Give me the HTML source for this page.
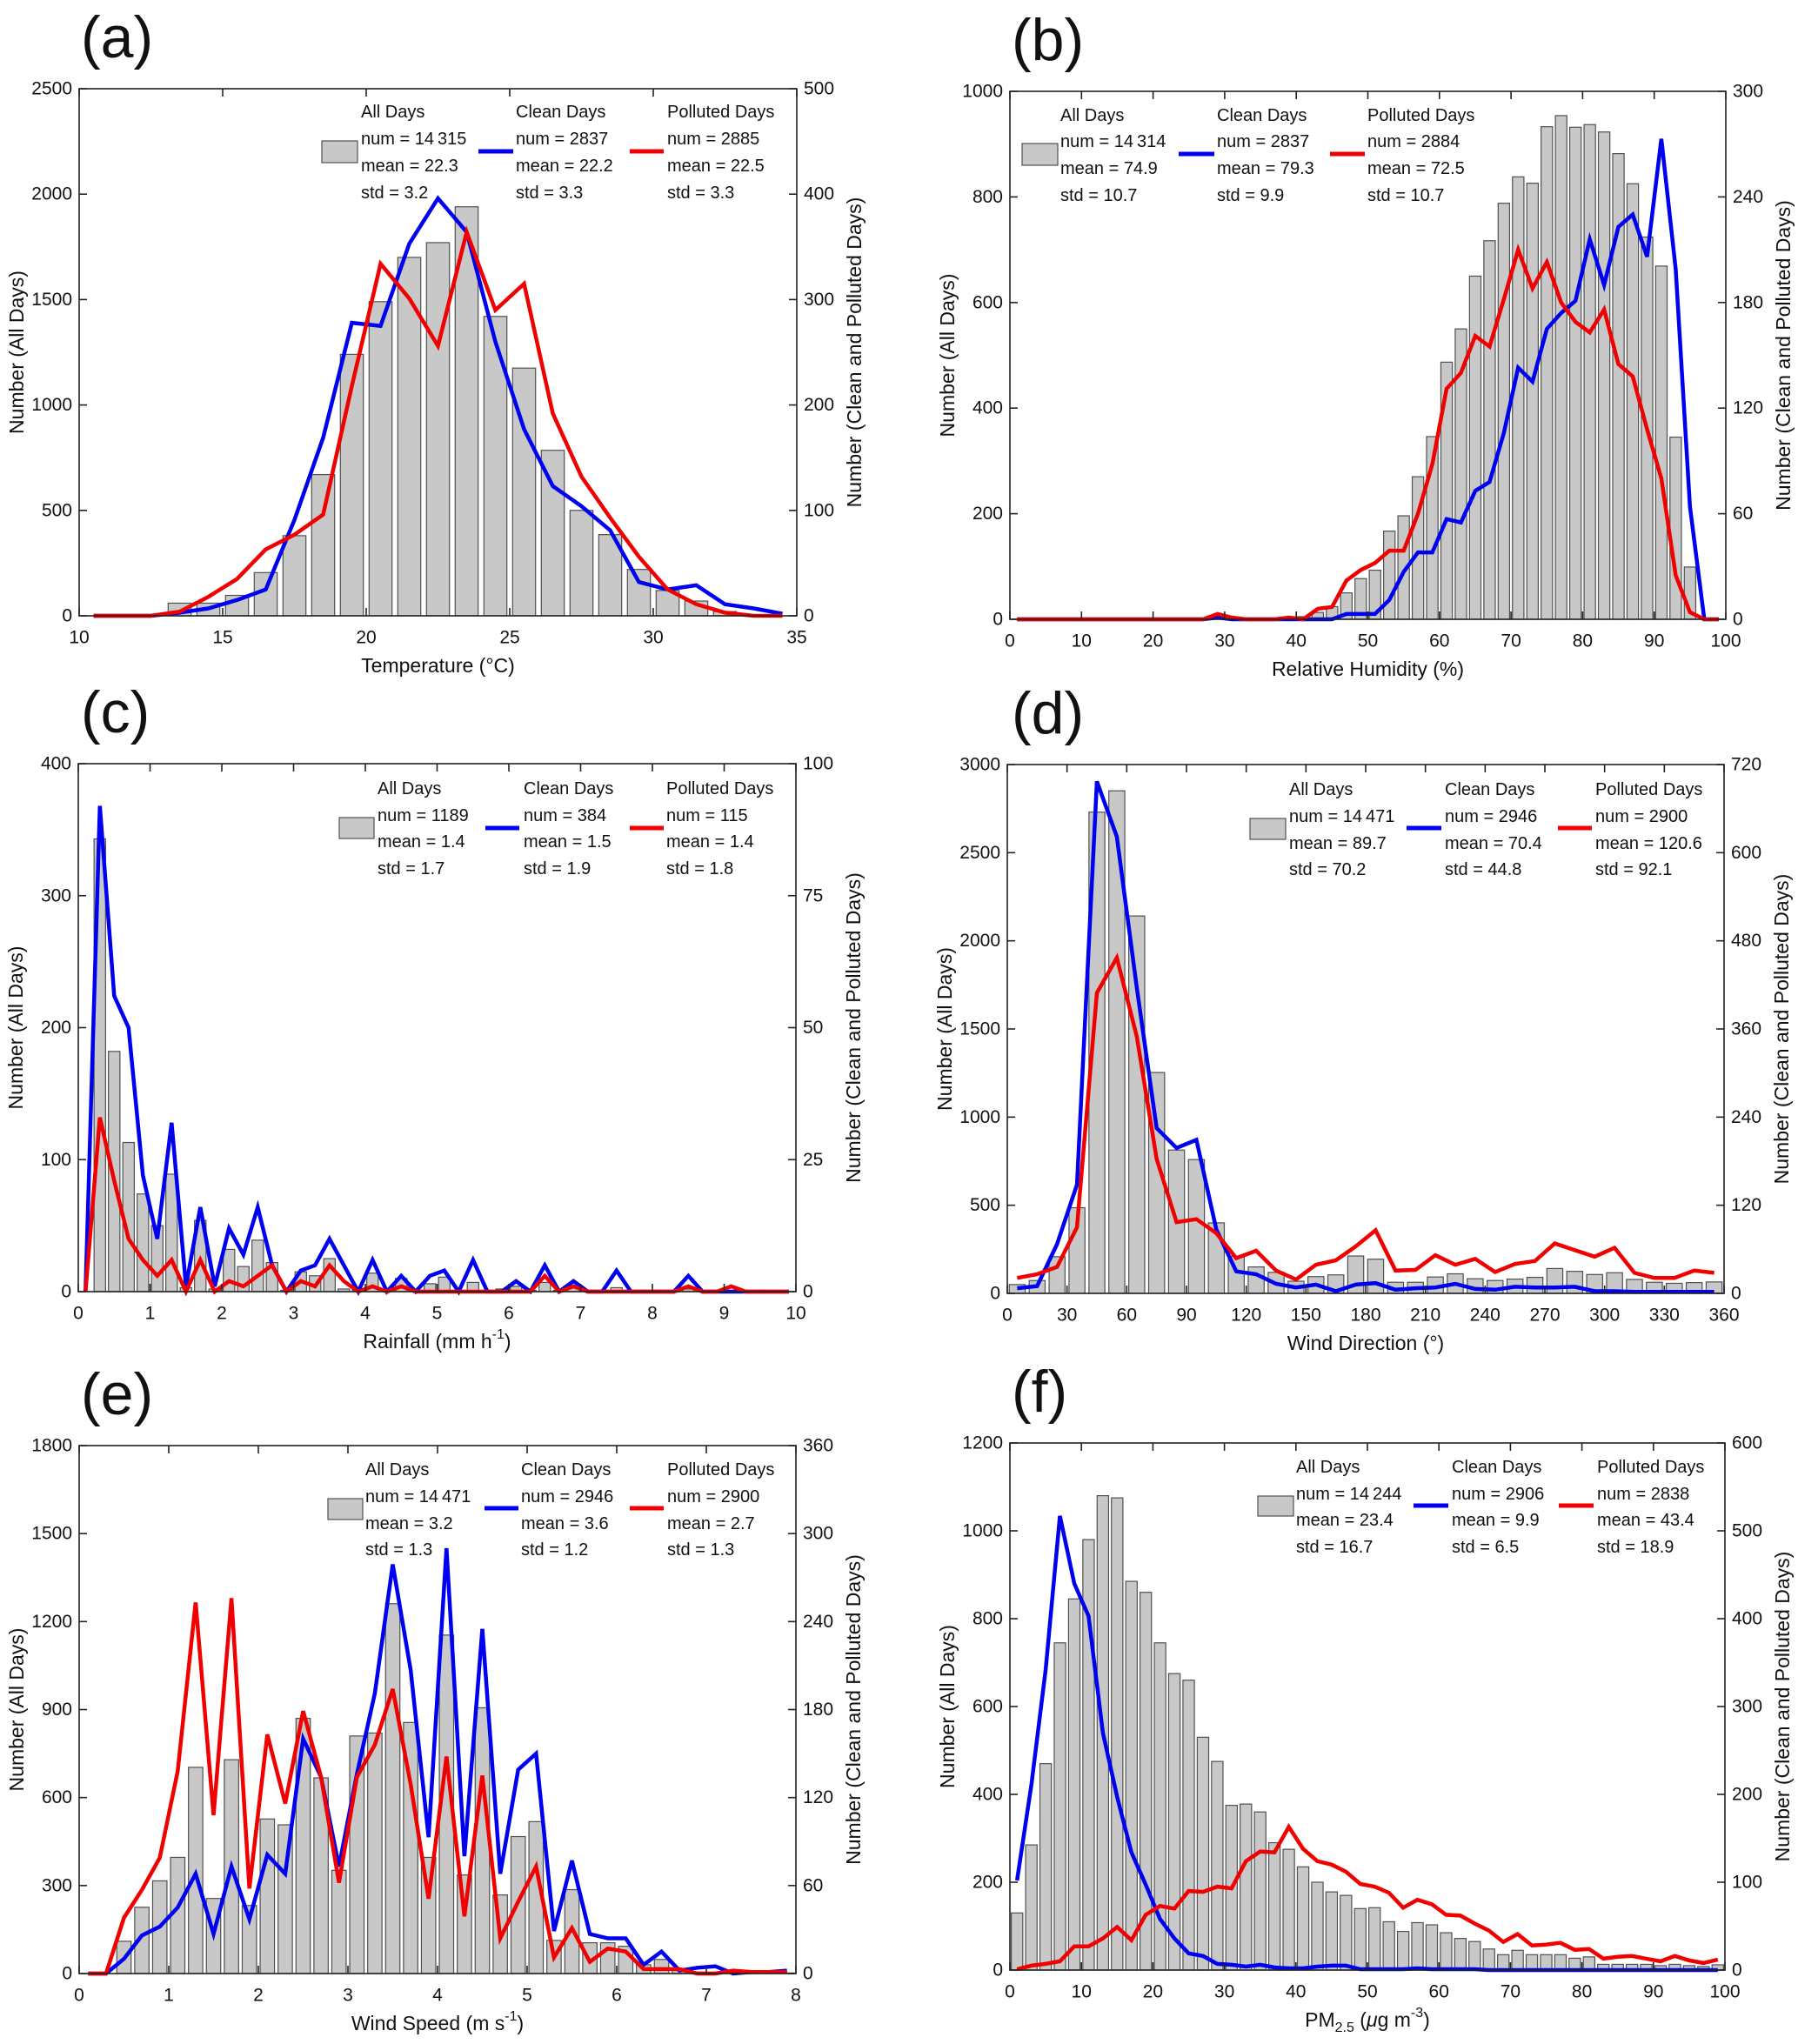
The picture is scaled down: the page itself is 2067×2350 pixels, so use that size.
<!DOCTYPE html>
<html><head><meta charset="utf-8"><title>Histograms of meteorological variables</title>
<style>
html,body{margin:0;padding:0;background:#fff;}
svg{display:block;font-family:"Liberation Sans",sans-serif;}
text{fill:#111;}
</style></head>
<body>
<svg id="fig" xmlns="http://www.w3.org/2000/svg" width="2067" height="2350" viewBox="0 0 2067 2350"></svg>
<script>
// ---------- DATA ----------
// (a) Temperature
const aCats=[10.5,11.5,12.5,13.5,14.5,15.5,16.5,17.5,18.5,19.5,20.5,21.5,22.5,23.5,24.5,25.5,26.5,27.5,28.5,29.5,30.5,31.5,32.5,33.5,34.5];
const aAll=[0,0,0,60,60,97,205,380,670,1240,1490,1700,1770,1940,1420,1175,785,500,385,220,120,70,20,5,0];
const aClean=[0,0,0,3,7,15,25,91,169,278,275,353,396,364,260,177,123,104,81,32,25,29,11,7,2];
const aPolluted=[0,0,0,4,18,35,63,77,96,218,334,301,256,364,290,315,192,132,93,56,25,11,3,0,0];
const aXTicks=[10,15,20,25,30,35];
const aLeftTicks=[0,500,1000,1500,2000,2500];
const aRightTicks=[0,100,200,300,400,500];

// (b) Relative humidity
const bCats=[1,3,5,7,9,11,13,15,17,19,21,23,25,27,29,31,33,35,37,39,41,43,45,47,49,51,53,55,57,59,61,63,65,67,69,71,73,75,77,79,81,83,85,87,89,91,93,95,97,99];
const bAll=[0,0,0,0,0,0,0,0,0,0,0,0,0,0,0,0,0,0,0,3,5,13,24,50,77,93,167,196,270,346,487,550,650,717,788,838,826,933,954,932,937,923,882,825,724,669,345,99,0,0];
const bClean=[0,0,0,0,0,0,0,0,0,0,0,0,0,0,1,0,0,0,0,0,0,0,0,3,3,3,11,27,38,38,57,55,73,78,106,143,135,165,174,181,216,190,223,230,206,273,199,64,0,0];
const bPolluted=[0,0,0,0,0,0,0,0,0,0,0,0,0,0,3,1,0,0,0,1,0,6,7,22,28,32,39,39,60,88,131,140,161,155,182,210,188,203,180,169,163,176,145,138,108,80,25,4,0,0];
const bXTicks=[0,10,20,30,40,50,60,70,80,90,100];
const bLeftTicks=[0,200,400,600,800,1000];
const bRightTicks=[0,60,120,180,240,300];

// (c) Rainfall
const cCats=[0.1,0.3,0.5,0.7,0.9,1.1,1.3,1.5,1.7,1.9,2.1,2.3,2.5,2.7,2.9,3.1,3.3,3.5,3.7,3.9,4.1,4.3,4.5,4.7,4.9,5.1,5.3,5.5,5.7,5.9,6.1,6.3,6.5,6.7,6.9,7.1,7.3,7.5,7.7,7.9,8.1,8.3,8.5,8.7,8.9,9.1,9.3,9.5,9.7,9.9];
const cAll=[0,343,182,113,74,50,89,3,54,2,32,19,39,22,1,15,12,25,2,1,14,1,10,1,6,11,1,7,1,2,4,1,7,1,3,1,1,3,1,1,1,1,2,1,1,1,1,1,0,0];
const cClean=[0,92,56,50,22,10,32,1,16,1,12,7,16,5,0,4,5,10,5,0,6,0,3,0,3,4,0,6,0,0,2,0,5,0,2,0,0,4,0,0,0,0,3,0,0,0,0,0,0,0];
const cPolluted=[0,33,21,10,6,3,6,0,6,0,2,1,3,5,0,2,1,5,2,0,1,0,1,0,0,0,0,0,0,0,0,0,3,0,1,0,0,0,0,0,0,0,1,0,0,1,0,0,0,0];
const cXTicks=[0,1,2,3,4,5,6,7,8,9,10];
const cLeftTicks=[0,100,200,300,400];
const cRightTicks=[0,25,50,75,100];

// (d) Wind direction
const dCats=[5,15,25,35,45,55,65,75,85,95,105,115,125,135,145,155,165,175,185,195,205,215,225,235,245,255,265,275,285,295,305,315,325,335,345,355];
const dAll=[50,73,208,486,2730,2851,2141,1253,813,759,400,210,150,119,69,95,105,212,194,63,63,93,111,83,73,81,91,141,125,107,117,79,63,57,61,65];
const dClean=[7,10,67,148,697,622,417,225,198,209,87,30,26,13,8,12,3,12,14,5,7,8,13,6,5,9,8,8,9,3,3,2,2,2,2,2];
const dPolluted=[21,26,36,90,409,457,350,183,97,101,82,48,58,31,19,39,45,64,86,31,32,52,39,47,29,40,44,68,59,50,62,28,21,21,31,28];
const dXTicks=[0,30,60,90,120,150,180,210,240,270,300,330,360];
const dLeftTicks=[0,500,1000,1500,2000,2500,3000];
const dRightTicks=[0,120,240,360,480,600,720];

// (e) Wind speed
const eCats=[0.1,0.3,0.5,0.7,0.9,1.1,1.3,1.5,1.7,1.9,2.1,2.3,2.5,2.7,2.9,3.1,3.3,3.5,3.7,3.9,4.1,4.3,4.5,4.7,4.9,5.1,5.3,5.5,5.7,5.9,6.1,6.3,6.5,6.7,6.9,7.1,7.3,7.5,7.7,7.9];
const eAll=[0,0,110,226,316,396,703,256,729,232,527,507,870,667,352,810,820,1261,856,396,1154,336,906,268,467,518,113,286,105,105,93,30,48,12,5,3,3,2,2,2];
const eClean=[0,0,10,26,32,45,68,27,73,37,81,68,160,134,73,136,191,279,207,93,290,80,235,68,139,150,29,77,27,24,24,6,15,2,4,5,0,1,1,2];
const ePolluted=[0,0,38,57,79,138,253,108,256,58,163,116,179,134,62,134,156,194,129,51,148,39,135,24,49,73,11,31,8,17,15,3,3,3,0,0,2,1,1,1];
const eXTicks=[0,1,2,3,4,5,6,7,8];
const eLeftTicks=[0,300,600,900,1200,1500,1800];
const eRightTicks=[0,60,120,180,240,300,360];

// (f) PM2.5
const fCats=[1,3,5,7,9,11,13,15,17,19,21,23,25,27,29,31,33,35,37,39,41,43,45,47,49,51,53,55,57,59,61,63,65,67,69,71,73,75,77,79,81,83,85,87,89,91,93,95,97,99];
const fAll=[130,285,470,745,845,980,1080,1075,885,860,745,675,660,530,475,375,378,360,290,275,235,200,178,170,140,142,110,88,108,103,85,72,65,48,35,45,35,35,35,27,30,13,13,13,13,10,13,10,8,12];
const fClean=[102,211,342,517,440,403,270,197,134,97,58,36,19,16,7,6,4,6,3,2,2,4,5,5,1,1,1,1,2,1,1,1,1,0,0,0,0,0,0,0,0,0,0,0,0,0,0,0,0,0];
const fPolluted=[1,5,7,10,27,27,36,49,34,63,73,70,90,89,95,93,124,135,134,163,138,124,120,112,98,95,88,71,80,75,63,62,53,45,32,41,28,29,31,23,24,13,15,16,13,10,16,11,8,12];
const fXTicks=[0,10,20,30,40,50,60,70,80,90,100];
const fLeftTicks=[0,200,400,600,800,1000,1200];
const fRightTicks=[0,100,200,300,400,500,600];

// Legend statistics
const aStats=[["14\u2009315","22.3","3.2"],["2837","22.2","3.3"],["2885","22.5","3.3"]];
const bStats=[["14\u2009314","74.9","10.7"],["2837","79.3","9.9"],["2884","72.5","10.7"]];
const cStats=[["1189","1.4","1.7"],["384","1.5","1.9"],["115","1.4","1.8"]];
const dStats=[["14\u2009471","89.7","70.2"],["2946","70.4","44.8"],["2900","120.6","92.1"]];
const eStats=[["14\u2009471","3.2","1.3"],["2946","3.6","1.2"],["2900","2.7","1.3"]];
const fStats=[["14\u2009244","23.4","16.7"],["2906","9.9","6.5"],["2838","43.4","18.9"]];

// ---------- LAYOUT ----------
const panels=[
 {id:'a',cats:aCats,all:aAll,clean:aClean,poll:aPolluted,xt:aXTicks,lt:aLeftTicks,rt:aRightTicks,stats:aStats,bin:1,
  L:91,R:916,T:102,B:708,xlab:'Temperature (°C)',
  lx:[415,593,767],ly:[129,160,191,222],box:[370,162,411,187],lineY:174,bl:[550,590],rl:[724,763],lab:[93,66]},
 {id:'b',cats:bCats,all:bAll,clean:bClean,poll:bPolluted,xt:bXTicks,lt:bLeftTicks,rt:bRightTicks,stats:bStats,bin:2,
  L:1161,R:1984,T:105,B:712,xlab:'Relative Humidity (%)',
  lx:[1219,1399,1572],ly:[133,163,194,225],box:[1175,165,1216,190],lineY:177,bl:[1355,1396],rl:[1529,1569],lab:[1163,69]},
 {id:'c',cats:cCats,all:cAll,clean:cClean,poll:cPolluted,xt:cXTicks,lt:cLeftTicks,rt:cRightTicks,stats:cStats,bin:0.2,
  L:90,R:915,T:878,B:1485,xlab:'rain',
  lx:[434,602,766],ly:[907,938,968,999],box:[390,940,430,964],lineY:952,bl:[558,597],rl:[724,763],lab:[93,842]},
 {id:'d',cats:dCats,all:dAll,clean:dClean,poll:dPolluted,xt:dXTicks,lt:dLeftTicks,rt:dRightTicks,stats:dStats,bin:10,
  L:1158,R:1982,T:879,B:1487,xlab:'Wind Direction (°)',
  lx:[1482,1661,1834],ly:[908,939,970,1000],box:[1437,941,1478,965],lineY:952,bl:[1617,1657],rl:[1791,1830],lab:[1163,843]},
 {id:'e',cats:eCats,all:eAll,clean:eClean,poll:ePolluted,xt:eXTicks,lt:eLeftTicks,rt:eRightTicks,stats:eStats,bin:0.2,
  L:91,R:915,T:1662,B:2269,xlab:'wind',
  lx:[420,599,767],ly:[1690,1721,1752,1782],box:[377,1723,417,1747],lineY:1734,bl:[557,596],rl:[724,763],lab:[93,1626]},
 {id:'f',cats:fCats,all:fAll,clean:fClean,poll:fPolluted,xt:fXTicks,lt:fLeftTicks,rt:fRightTicks,stats:fStats,bin:2,
  L:1161,R:1983,T:1659,B:2265,xlab:'pm',
  lx:[1490,1669,1836],ly:[1687,1718,1748,1779],box:[1446,1720,1487,1743],lineY:1731,bl:[1625,1665],rl:[1792,1832],lab:[1163,1623]}
];

const NS='http://www.w3.org/2000/svg';
const svg=document.getElementById('fig');
function mk(tag,attrs,parent){const e=document.createElementNS(NS,tag);for(const k in attrs)e.setAttribute(k,attrs[k]);(parent||svg).appendChild(e);return e;}

const BLUE='#0000f0', RED='#f00000', FS=21, TFS=23, LFS=20;

panels.forEach(p=>{
  const g=mk('g',{});
  
  
  const xmin=p.xt[0], xmax=p.xt[p.xt.length-1];
  const lmax=p.lt[p.lt.length-1], rmax=p.rt[p.rt.length-1];
  const X=v=>p.L+(v-xmin)/(xmax-xmin)*(p.R-p.L);
  const YL=v=>p.B-v/lmax*(p.B-p.T);
  const YR=v=>p.B-v/rmax*(p.B-p.T);

  const bw=(X(p.bin)-X(0))*0.8;
  p.cats.forEach((c,i)=>{
    const v=p.all[i]; if(v<=0) return;
    const r=mk('rect',{x:X(c)-bw/2,y:YL(v),width:bw,height:p.B-YL(v),fill:'#c8c8c8',stroke:'#505050','stroke-width':1.2},g);
    
    
  });
  const ptsB=p.cats.map((c,i)=>X(c).toFixed(1)+','+YR(p.clean[i]).toFixed(1)).join(' ');
  const lb=mk('polyline',{points:ptsB,fill:'none',stroke:BLUE,'stroke-width':4.5,'stroke-linejoin':'miter'},g);
  
  
  const ptsR=p.cats.map((c,i)=>X(c).toFixed(1)+','+YR(p.poll[i]).toFixed(1)).join(' ');
  const lr=mk('polyline',{points:ptsR,fill:'none',stroke:RED,'stroke-width':4.5,'stroke-linejoin':'miter'},g);
  
  

  const fr=mk('rect',{x:p.L,y:p.T,width:p.R-p.L,height:p.B-p.T,fill:'none',stroke:'#222','stroke-width':1.6},g);
  
  

  p.xt.forEach(v=>{
    const x=X(v);
    mk('line',{x1:x,y1:p.B,x2:x,y2:p.B-9,stroke:'#222','stroke-width':1.6},g);
    mk('line',{x1:x,y1:p.T,x2:x,y2:p.T+9,stroke:'#222','stroke-width':1.6},g);
    const t=mk('text',{x:x,y:p.B+25,'font-size':FS,'text-anchor':'middle','dominant-baseline':'central'},g);
    t.textContent=v;
    
    
  });
  p.lt.forEach(v=>{
    const y=YL(v);
    mk('line',{x1:p.L,y1:y,x2:p.L+9,y2:y,stroke:'#222','stroke-width':1.6},g);
    const t=mk('text',{x:p.L-8,y:y,'font-size':FS,'text-anchor':'end','dominant-baseline':'central'},g);
    t.textContent=v;
    
    
  });
  p.rt.forEach(v=>{
    const y=YR(v);
    mk('line',{x1:p.R,y1:y,x2:p.R-9,y2:y,stroke:'#222','stroke-width':1.6},g);
    const t=mk('text',{x:p.R+8,y:y,'font-size':FS,'text-anchor':'start','dominant-baseline':'central'},g);
    t.textContent=v;
    
    
  });

  const cx=(p.L+p.R)/2, cy=(p.T+p.B)/2;
  const xt=mk('text',{x:cx,y:p.B+57,'font-size':TFS,'text-anchor':'middle','dominant-baseline':'central'},g);
  
  
  if(p.xlab==='rain'){
    xt.appendChild(document.createTextNode('Rainfall (mm h'));
    const s=mk('tspan',{dy:-8,'font-size':16},xt); s.textContent='-1';
    const s2=mk('tspan',{dy:8},xt); s2.textContent=')';
  } else if(p.xlab==='wind'){
    xt.appendChild(document.createTextNode('Wind Speed (m s'));
    const s=mk('tspan',{dy:-8,'font-size':16},xt); s.textContent='-1';
    const s2=mk('tspan',{dy:8},xt); s2.textContent=')';
  } else if(p.xlab==='pm'){
    xt.appendChild(document.createTextNode('PM'));
    const s=mk('tspan',{dy:9,'font-size':16},xt); s.textContent='2.5';
    const s2=mk('tspan',{dy:-9},xt); s2.textContent=' (';
    const s3=mk('tspan',{'font-style':'italic'},xt); s3.textContent='\u03BC';
    const s4=mk('tspan',{},xt); s4.textContent='g m';
    const s5=mk('tspan',{dy:-8,'font-size':16},xt); s5.textContent='-3';
    const s6=mk('tspan',{dy:8},xt); s6.textContent=')';
  } else xt.textContent=p.xlab;

  const yl=mk('text',{x:p.L-72,y:cy,'font-size':TFS,'text-anchor':'middle','dominant-baseline':'central',transform:`rotate(-90 ${p.L-72} ${cy})`},g);
  yl.textContent='Number (All Days)';
  
  
  const yr=mk('text',{x:p.R+66,y:cy,'font-size':TFS,'text-anchor':'middle','dominant-baseline':'central',transform:`rotate(-90 ${p.R+66} ${cy})`},g);
  yr.textContent='Number (Clean and Polluted Days)';
  
  

  const pl=mk('text',{x:p.lab[0],y:p.lab[1],'font-size':68,'text-anchor':'start'},g);
  pl.textContent='('+p.id+')';
  
  

  const lg=mk('g',{},g);
  
  
  const sb=mk('rect',{x:p.box[0],y:p.box[1],width:p.box[2]-p.box[0],height:p.box[3]-p.box[1],fill:'#c8c8c8',stroke:'#505050','stroke-width':1.2},lg);
  
  
  const s1=mk('line',{x1:p.bl[0],y1:p.lineY,x2:p.bl[1],y2:p.lineY,stroke:BLUE,'stroke-width':5},lg);
  
  
  const s2=mk('line',{x1:p.rl[0],y1:p.lineY,x2:p.rl[1],y2:p.lineY,stroke:RED,'stroke-width':5},lg);
  
  
  const titles=['All Days','Clean Days','Polluted Days'];
  titles.forEach((ti,k)=>{
    const lines=[ti,'num = '+p.stats[k][0],'mean = '+p.stats[k][1],'std = '+p.stats[k][2]];
    lines.forEach((s,j)=>{
      const t=mk('text',{x:p.lx[k],y:p.ly[j],'font-size':LFS,'dominant-baseline':'central'},lg);
      t.textContent=s;
      
      
    });
  });
});
</script>
</body></html>
